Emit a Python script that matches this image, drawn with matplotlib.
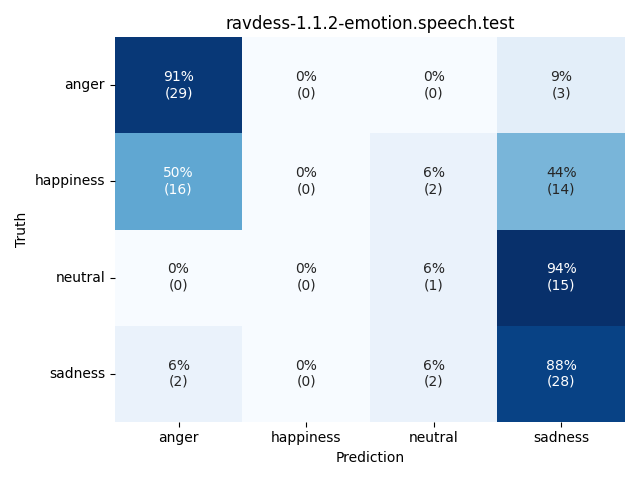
import numpy as np
import matplotlib
matplotlib.use("Agg")
import matplotlib.pyplot as plt
import seaborn as sns

labels = ["anger", "happiness", "neutral", "sadness"]
counts = np.array([
    [29, 0, 0, 3],
    [16, 0, 2, 14],
    [0, 0, 1, 15],
    [2, 0, 2, 28],
])

# row-normalised percentages
percent = counts / counts.sum(axis=1, keepdims=True) * 100
annot = np.array([
    [f"{p:.0f}%\n({c})" for p, c in zip(prow, crow)]
    for prow, crow in zip(percent, counts)
])

fig, ax = plt.subplots(figsize=(6.4, 4.8), dpi=100)
sns.heatmap(percent, annot=annot, fmt="", cmap="Blues", cbar=False,
            xticklabels=labels, yticklabels=labels, ax=ax)
ax.set_yticklabels(labels, rotation=0)
ax.set_xlabel("Prediction")
ax.set_ylabel("Truth")
ax.set_title("ravdess-1.1.2-emotion.speech.test")
plt.tight_layout()
plt.savefig("out.png")
